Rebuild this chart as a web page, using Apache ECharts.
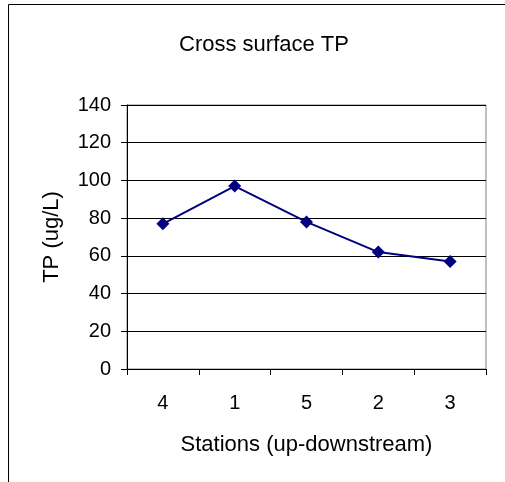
<!DOCTYPE html>
<html>
<head>
<meta charset="utf-8">
<script src="https://cdn.jsdelivr.net/npm/echarts@6/dist/echarts.min.js"></script>
<style>
  html, body { margin: 0; padding: 0; background: #fff; }
  #main { width: 505px; height: 482px; }
</style>
</head>
<body>
<div id="main"></div>
<script>
// stations in upstream -> downstream order
var stations = ['4', '1', '5', '2', '3'];
var tpValues = [77, 97, 78, 62, 57];
var yTicks = { min: 0, max: 140, step: 20 };

var font = 'Liberation Sans, Arial, sans-serif';
var myChart = echarts.init(document.getElementById('main'));
myChart.setOption({
  animation: false,
  title: {
    text: 'Cross surface TP',
    left: 259,
    top: 29,
    textAlign: 'center',
    textStyle: { color: '#000', fontWeight: 'normal', fontSize: 22, fontFamily: font }
  },
  graphic: [{
    type: 'rect',
    shape: { x: 8.5, y: 4.5, width: 620, height: 600 },
    style: { fill: 'none', stroke: '#000', lineWidth: 1 },
    silent: true
  }],
  grid: {
    left: 127, right: 19, top: 105, bottom: 113,
    show: true, borderColor: '#808080', borderWidth: 1
  },
  xAxis: {
    type: 'category',
    data: stations,
    boundaryGap: true,
    name: 'Stations (up-downstream)',
    nameLocation: 'middle',
    nameGap: 65,
    nameTextStyle: { color: '#000', fontSize: 22, fontFamily: font },
    axisLine: { lineStyle: { color: '#000' } },
    axisTick: { show: true, alignWithLabel: false, length: 6, lineStyle: { color: '#000' } },
    axisLabel: { color: '#000', fontSize: 20, fontFamily: font, margin: 24 },
    splitLine: { show: false }
  },
  yAxis: {
    type: 'value',
    min: yTicks.min,
    max: yTicks.max,
    interval: yTicks.step,
    name: 'TP (ug/L)',
    nameLocation: 'middle',
    nameGap: 64,
    nameRotate: 90,
    nameTextStyle: { color: '#000', fontSize: 22, fontFamily: font },
    axisLine: { show: true, lineStyle: { color: '#000' } },
    axisTick: { show: true, length: 6, lineStyle: { color: '#000' } },
    axisLabel: { color: '#000', fontSize: 20, fontFamily: font, margin: 16 },
    splitLine: { show: true, lineStyle: { color: '#000', width: 1 } }
  },
  series: [{
    type: 'line',
    data: tpValues,
    symbol: 'diamond',
    symbolSize: 13,
    itemStyle: { color: '#000080' },
    lineStyle: { color: '#000080', width: 2 }
  }]
});
</script>
</body>
</html>
